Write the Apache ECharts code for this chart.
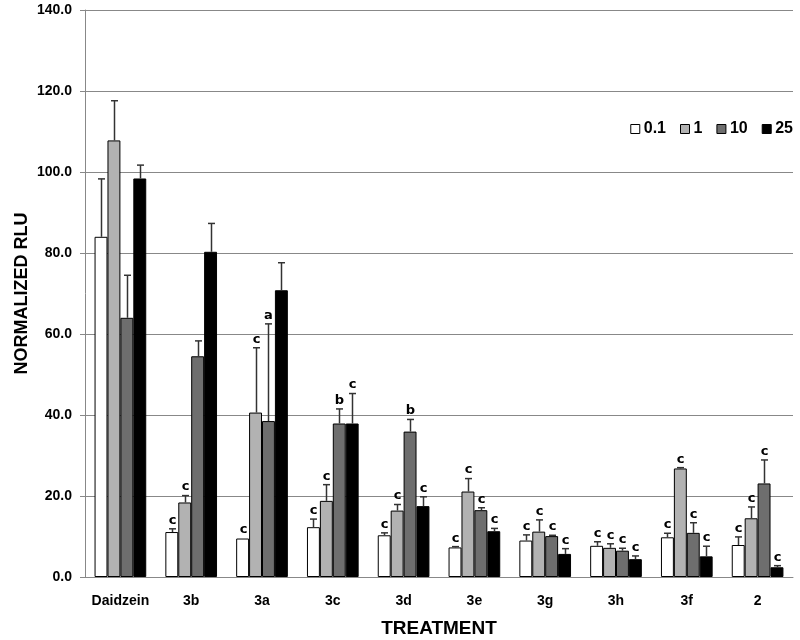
<!DOCTYPE html>
<html>
<head>
<meta charset="utf-8">
<script src="https://cdn.jsdelivr.net/npm/echarts@6/dist/echarts.min.js"></script>
<style>html,body{margin:0;padding:0;background:#fff}#c{width:800px;height:640px}</style>
</head>
<body>
<div id="c"></div>
<script>
const categories = ['Daidzein','3b','3a','3c','3d','3e','3g','3h','3f','2'];
const seriesNames = ['0.1','1','10','25'];
const vals01 = [84.0, 11.1, 9.5, 12.3, 10.3, 7.3, 9.0, 7.7, 9.8, 7.9];
const vals1  = [107.8, 18.4, 40.6, 18.8, 16.4, 21.1, 11.2, 7.2, 26.8, 14.5];
const vals10 = [64.0, 54.5, 38.5, 37.9, 35.9, 16.5, 10.1, 6.5, 10.9, 23.1];
const vals25 = [98.4, 80.3, 70.8, 37.9, 17.5, 11.3, 5.7, 4.4, 5.1, 2.4];
const errTop01 = [98.3, 11.9, 9.5, 14.3, 10.9, 7.5, 10.4, 8.7, 10.8, 9.9];
const errTop1  = [117.6, 20.1, 56.6, 22.8, 17.9, 24.3, 14.1, 8.2, 27.0, 17.3];
const errTop10 = [74.5, 58.3, 62.5, 41.5, 38.9, 17.1, 10.3, 7.1, 13.4, 28.9];
const errTop25 = [101.7, 87.3, 77.6, 45.3, 19.8, 12.0, 7.0, 5.2, 7.6, 2.8];
const letters01 = ['', 'c', 'c', 'c', 'c', 'c', 'c', 'c', 'c', 'c'];
const letters1  = ['', 'c', 'c', 'c', 'c', 'c', 'c', 'c', 'c', 'c'];
const letters10 = ['', '', 'a', 'b', 'b', 'c', 'c', 'c', 'c', 'c'];
const letters25 = ['', '', '', 'c', 'c', 'c', 'c', 'c', 'c', 'c'];
const yTicks = [0, 20, 40, 60, 80, 100, 120, 140];

const vals = [vals01, vals1, vals10, vals25];
const errs = [errTop01, errTop1, errTop10, errTop25];
const letters = [letters01, letters1, letters10, letters25];
const colors = ['#ffffff', '#b2b2b2', '#6e6e6e', '#000000'];
const CAT_GAP = 0.27;
const FONT = '"Liberation Sans", Arial, sans-serif';

const chart = echarts.init(document.getElementById('c'));
const series = [];
seriesNames.forEach((name, i) => {
  series.push({
    name: name, type: 'bar', data: vals[i],
    barCategoryGap: (CAT_GAP*100)+'%', barGap: '0%',
    itemStyle: { color: colors[i], borderColor: '#000', borderWidth: 1 },
    emphasis: { disabled: true }, animation: false, z: 2
  });
});
seriesNames.forEach((name, i) => {
  series.push({
    type: 'custom', name: name + '_err', silent: true, animation: false, z: 5,
    data: vals[i].map((v, k) => [k, v, errs[i][k]]),
    renderItem: function (params, api) {
      const k = api.value(0), v = api.value(1), e = api.value(2);
      const p1 = api.coord([k, v]);
      const p2 = api.coord([k, e]);
      const band = api.size([1, 0])[0];
      const bw = band * (1 - CAT_GAP) / 4;
      const cx = Math.round(p1[0] + (i - 1.5) * bw) + 0.5;
      const children = [];
      const hasErr = p1[1] - p2[1] > 0.8;
      if (hasErr) {
        children.push({ type: 'line', shape: { x1: cx, y1: p1[1], x2: cx, y2: p2[1] }, style: { stroke: '#333', lineWidth: 1.5 } });
        children.push({ type: 'line', shape: { x1: cx - 3.5, y1: p2[1], x2: cx + 3.5, y2: p2[1] }, style: { stroke: '#333', lineWidth: 1.5 } });
      }
      const lt = letters[i][params.dataIndex];
      if (lt) {
        children.push({ type: 'text', style: { text: lt, x: cx, y: Math.min(p1[1], p2[1]) - 2, align: 'center', verticalAlign: 'bottom', fill: '#000', font: 'bold 13px "DejaVu Sans", sans-serif' } });
      }
      return { type: 'group', children: children };
    }
  });
});

chart.setOption({
  backgroundColor: '#fff',
  animation: false,
  grid: { left: 85, right: 7, top: 10, bottom: 63, containLabel: false, outerBoundsMode: 'none' },
  legend: {
    data: seriesNames, right: 2, top: 116, icon: 'rect', itemWidth: 9, itemHeight: 9, itemGap: 14,
    textStyle: { fontFamily: FONT, fontWeight: 'bold', fontSize: 16, color: '#000', padding: [0, 0, 0, -1] },
    itemStyle: { borderColor: '#000', borderWidth: 1 }
  },
  xAxis: {
    type: 'category', data: categories,
    name: 'TREATMENT', nameLocation: 'middle', nameGap: 42, nameMoveOverlap: false,
    nameTextStyle: { fontFamily: FONT, fontWeight: 'bold', fontSize: 19, color: '#000' },
    axisLine: { lineStyle: { color: '#888', width: 1 } },
    axisTick: { show: false },
    axisLabel: { fontFamily: FONT, fontWeight: 'bold', fontSize: 14, color: '#000', margin: 17, interval: 0 }
  },
  yAxis: {
    type: 'value', min: yTicks[0], max: yTicks[yTicks.length - 1], interval: 20,
    name: 'NORMALIZED RLU', nameLocation: 'middle', nameGap: 54, nameRotate: 90, nameMoveOverlap: false,
    nameTextStyle: { fontFamily: FONT, fontWeight: 'bold', fontSize: 18, color: '#000' },
    axisLine: { show: true, lineStyle: { color: '#888', width: 1 } },
    axisTick: { show: true, length: 5, lineStyle: { color: '#888' } },
    splitLine: { lineStyle: { color: '#888', width: 1 } },
    axisLabel: { fontFamily: FONT, fontWeight: 'bold', fontSize: 14, color: '#000', margin: 13, formatter: v => v.toFixed(1) }
  },
  series: series
});
</script>
</body>
</html>
